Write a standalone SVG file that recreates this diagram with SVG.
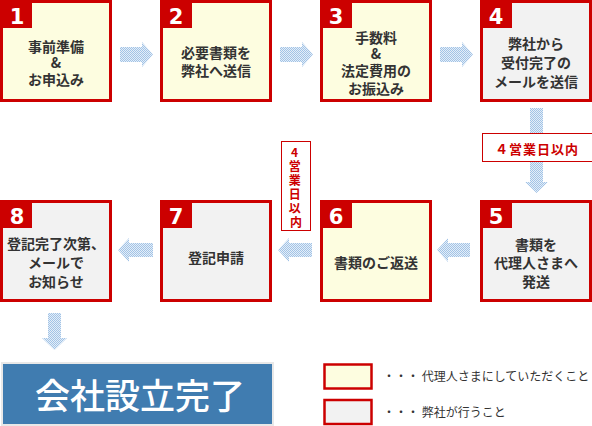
<svg xmlns="http://www.w3.org/2000/svg" width="592" height="426" viewBox="0 0 592 426">
<defs>
<pattern id="dither" width="2" height="2" patternUnits="userSpaceOnUse">
<rect width="2" height="2" fill="#e4eef8"/>
<rect width="1" height="1" fill="#a2c3e6"/>
<rect x="1" y="1" width="1" height="1" fill="#a2c3e6"/>
</pattern>
<style>
.box{stroke:#cc0000;stroke-width:3}
.cl{fill:#fdfde0}
.us{fill:#f2f2f2}
.tab{fill:#cc0000}
.num{font-family:"DejaVu Sans","Liberation Sans",sans-serif;font-weight:bold;font-size:21px;fill:#ffffff;text-anchor:middle}
.t{font-family:"Noto Sans CJK JP","Liberation Sans",sans-serif;font-weight:bold;font-size:14px;fill:#333333;text-anchor:middle}
.arr{fill:url(#dither)}
.lbl{fill:#ffffff;stroke:#cc0000;stroke-width:1}
.lt{font-family:"Noto Sans CJK JP","Liberation Sans",sans-serif;font-weight:bold;font-size:13px;fill:#cc0000;text-anchor:middle}
.vt{font-family:"Noto Sans CJK JP","Liberation Sans",sans-serif;font-weight:bold;font-size:12px;fill:#cc0000;text-anchor:middle}
.leg{font-family:"Noto Sans CJK JP","Liberation Sans",sans-serif;font-size:12px;fill:#333333}
</style>
</defs>
<rect width="592" height="426" fill="#ffffff"/>

<g id="connectors">
<polygon class="arr" points="120,47 142,47 142,42 153,54.5 142,67 142,62 120,62"/>
<polygon class="arr" points="280,47 302,47 302,42 313,54.5 302,67 302,62 280,62"/>
<polygon class="arr" points="440,47 462,47 462,42 473,54.5 462,67 462,62 440,62"/>
<polygon class="arr" points="530,108 543,108 543,182 548,182 536.5,193 525,182 530,182"/>
<polygon class="arr" points="437,250 448,238 448,243 470,243 470,257 448,257 448,262"/>
<polygon class="arr" points="278,250 289,238 289,243 312,243 312,257 289,257 289,262"/>
<polygon class="arr" points="118,250 129,238 129,243 153,243 153,257 129,257 129,262"/>
<polygon class="arr" points="48,313 61,313 61,338 67,338 54.5,350 42,338 48,338"/>
</g>

<g id="label-4days-a">
<rect class="lbl" x="482.5" y="133.5" width="110" height="28"/>
<text class="lt" x="537" y="154" letter-spacing="1">４営業日以内</text>
</g>
<g id="label-4days-b">
<rect class="lbl" x="281.5" y="141.5" width="29" height="89"/>
<text class="vt">
<tspan x="296" y="157">4</tspan>
<tspan x="296" y="171">営</tspan>
<tspan x="296" y="185">業</tspan>
<tspan x="296" y="199">日</tspan>
<tspan x="296" y="213">以</tspan>
<tspan x="296" y="227">内</tspan>
</text>
</g>

<g id="step1">
<rect class="box cl" x="1.5" y="1.5" width="109" height="99"/>
<rect class="tab" x="0" y="0" width="32" height="28"/>
<text class="num" x="17" y="24">1</text>
<text class="t"><tspan x="56" y="52">事前準備</tspan><tspan x="56" y="68">&amp;</tspan><tspan x="56" y="85">お申込み</tspan></text>
</g>
<g id="step2">
<rect class="box cl" x="161.5" y="1.5" width="109" height="99"/>
<rect class="tab" x="160" y="0" width="32" height="28"/>
<text class="num" x="176" y="24">2</text>
<text class="t"><tspan x="216" y="58">必要書類を</tspan><tspan x="216" y="76">弊社へ送信</tspan></text>
</g>
<g id="step3">
<rect class="box cl" x="321.5" y="1.5" width="109" height="99"/>
<rect class="tab" x="320" y="0" width="32" height="28"/>
<text class="num" x="336" y="24">3</text>
<text class="t"><tspan x="376" y="43">手数料</tspan><tspan x="376" y="59">&amp;</tspan><tspan x="376" y="76">法定費用の</tspan><tspan x="376" y="94">お振込み</tspan></text>
</g>
<g id="step4">
<rect class="box us" x="481.5" y="1.5" width="109" height="99"/>
<rect class="tab" x="480" y="0" width="32" height="28"/>
<text class="num" x="496" y="24">4</text>
<text class="t"><tspan x="536" y="49">弊社から</tspan><tspan x="536" y="68">受付完了の</tspan><tspan x="536" y="87">メールを送信</tspan></text>
</g>
<g id="step5">
<rect class="box us" x="481.5" y="201.5" width="109" height="99"/>
<rect class="tab" x="480" y="200" width="32" height="28"/>
<text class="num" x="496" y="224">5</text>
<text class="t"><tspan x="536" y="250">書類を</tspan><tspan x="536" y="268">代理人さまへ</tspan><tspan x="536" y="287">発送</tspan></text>
</g>
<g id="step6">
<rect class="box cl" x="321.5" y="201.5" width="109" height="99"/>
<rect class="tab" x="320" y="200" width="32" height="28"/>
<text class="num" x="336" y="224">6</text>
<text class="t" x="376" y="268">書類のご返送</text>
</g>
<g id="step7">
<rect class="box us" x="161.5" y="201.5" width="109" height="99"/>
<rect class="tab" x="160" y="200" width="32" height="28"/>
<text class="num" x="176" y="224">7</text>
<text class="t" x="216" y="263">登記申請</text>
</g>
<g id="step8">
<rect class="box us" x="1.5" y="201.5" width="109" height="99"/>
<rect class="tab" x="0" y="200" width="32" height="28"/>
<text class="num" x="17" y="224">8</text>
<text class="t"><tspan x="56" y="249">登記完了次第、</tspan><tspan x="56" y="268">メールで</tspan><tspan x="56" y="287">お知らせ</tspan></text>
</g>

<g id="complete">
<rect x="2" y="363" width="271" height="62" fill="#407cb0" stroke="#e8e8e8" stroke-width="2"/>
<text x="140" y="409" font-family="Noto Sans CJK JP, sans-serif" font-size="35" font-weight="500" fill="#ffffff" text-anchor="middle">会社設立完了</text>
</g>

<g id="legend">
<rect class="cl" x="324.5" y="364.5" width="47" height="24" stroke="#cc0000" stroke-width="2.5"/>
<text class="leg" x="383" y="381">・・・ 代理人さまにしていただくこと</text>
<rect class="us" x="324.5" y="400" width="47" height="24" stroke="#cc0000" stroke-width="2.5"/>
<text class="leg" x="383" y="417">・・・ 弊社が行うこと</text>
</g>
</svg>
